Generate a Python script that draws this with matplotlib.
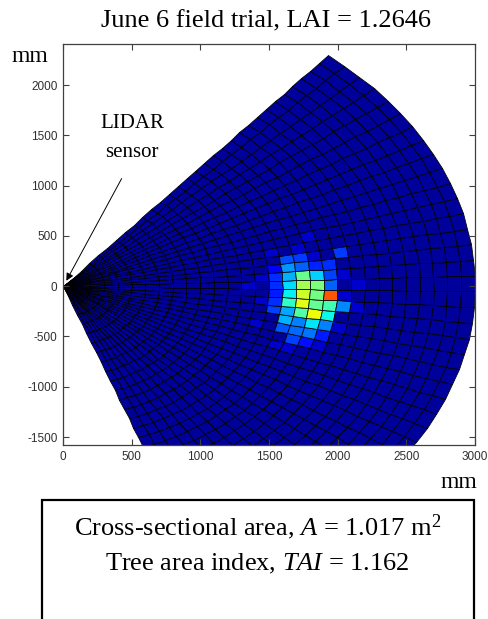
import numpy as np
import matplotlib.pyplot as plt
from matplotlib.patches import Rectangle

# polar scan grid (LIDAR at origin)
ring_width = 100          # mm
n_rings = 30
sector_start = -70        # deg
sector_step = 3           # deg
n_sectors = 40

base_value = 0.025

# hot spot cells: ring index, sector index, value (jet scale 0..1)
hot_ring = [16, 17, 20,
            15, 16, 17, 18, 19,
            15, 16, 17, 18, 19,
            15, 16, 17, 18, 19,
            15, 16, 17, 18, 19,
            15, 16, 17, 18, 19, 20,
            15, 16, 17, 18, 19,
            16, 17, 18, 19,
            16, 17, 18, 19,
            17, 18]
hot_sector = [26, 26, 26,
              25, 25, 25, 25, 25,
              24, 24, 24, 24, 24,
              23, 23, 23, 23, 23,
              22, 22, 22, 22, 22,
              21, 21, 21, 21, 21, 21,
              20, 20, 20, 20, 20,
              19, 19, 19, 19,
              18, 18, 18, 18,
              17, 17]
hot_value = [0.20, 0.18, 0.18,
             0.12, 0.27, 0.22, 0.16, 0.17,
             0.17, 0.30, 0.48, 0.33, 0.19,
             0.17, 0.34, 0.55, 0.50, 0.22,
             0.15, 0.36, 0.60, 0.49, 0.82,
             0.17, 0.41, 0.625, 0.47, 0.43, 0.26,
             0.19, 0.29, 0.45, 0.64, 0.37,
             0.30, 0.25, 0.35, 0.25,
             0.21, 0.23, 0.24, 0.15,
             0.19, 0.14]

# slightly brighter blue cells around the spot
faint_ring = [14, 14, 15, 17, 18, 19, 20, 20, 21, 20, 16, 17, 19, 21, 13, 14, 18]
faint_sector = [24, 21, 27, 27, 26, 25, 24, 22, 21, 19, 16, 16, 17, 23, 23, 18, 28]
faint_value = 0.07

xticks = [0, 500, 1000, 1500, 2000, 2500, 3000]
yticks = [-1500, -1000, -500, 0, 500, 1000, 1500, 2000]

C = np.full((n_rings, n_sectors), base_value)
for i, j in zip(faint_ring, faint_sector):
    C[i, j] = faint_value
for i, j, v in zip(hot_ring, hot_sector, hot_value):
    C[i, j] = v

r_edges = np.arange(n_rings + 1) * ring_width
t_edges = np.deg2rad(sector_start + np.arange(n_sectors + 1) * sector_step)
R, T = np.meshgrid(r_edges, t_edges, indexing='ij')
X = R * np.cos(T)
Y = R * np.sin(T)

plt.rcParams['axes.unicode_minus'] = False
serif = 'Liberation Serif'
plt.rcParams['mathtext.fontset'] = 'custom'
plt.rcParams['mathtext.rm'] = serif
plt.rcParams['mathtext.it'] = serif + ':italic'

fig = plt.figure(figsize=(4.88, 6.19), dpi=100)
ax = fig.add_axes([0.129, 0.281, 0.844, 0.648])

ax.pcolormesh(X, Y, C, cmap='jet', vmin=0, vmax=1,
              edgecolors='k', linewidth=0.55, antialiased=True)

ax.set_xlim(0, 3000)
ax.set_ylim(-1580, 2410)
ax.set_xticks(xticks)
ax.set_yticks(yticks)
ax.tick_params(direction='in', top=True, right=True, length=4, width=0.8,
               color='#404040', labelcolor='#303030', labelsize=8.5, pad=4)
for lab in ax.get_xticklabels() + ax.get_yticklabels():
    lab.set_family('Liberation Sans')
for s in ax.spines.values():
    s.set_color('#404040')
    s.set_linewidth(0.9)

fig.text(0.545, 0.965, 'June 6 field trial, LAI = 1.2646', family=serif,
         fontsize=19, ha='center', va='center')
fig.text(0.024, 0.909, 'mm', family=serif, fontsize=17, ha='left', va='center')
fig.text(0.978, 0.221, 'mm', family=serif, fontsize=17, ha='right', va='center')

# sensor label and arrow
ax.text(503, 1622, 'LIDAR', family=serif, fontsize=15, ha='center', va='center')
ax.text(503, 1333, 'sensor', family=serif, fontsize=15, ha='center', va='center')
ax.annotate('', xy=(15, 30), xytext=(437, 1095),
            arrowprops=dict(arrowstyle='-|>', color='k', lw=0.7, mutation_scale=11))

# result box
fig.patches.append(Rectangle((0.086, -0.02), 0.885, 0.212, transform=fig.transFigure,
                             fill=False, edgecolor='k', linewidth=1.6))
fig.text(0.528, 0.148, r'Cross-sectional area, $\mathit{A}$ = 1.017 m$^{2}$',
         family=serif, fontsize=19, ha='center', va='center')
fig.text(0.528, 0.089, r'Tree area index, $\mathit{TAI}$ = 1.162',
         family=serif, fontsize=19, ha='center', va='center')

fig.savefig('out.png', dpi=100)
